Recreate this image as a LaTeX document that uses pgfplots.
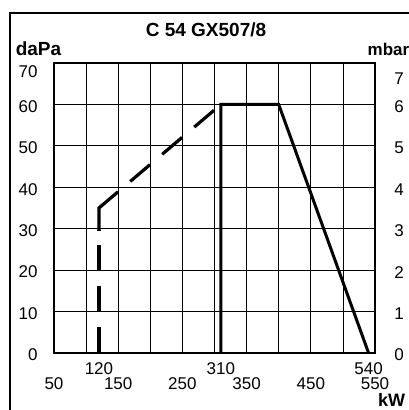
\documentclass[border=0pt]{standalone}
\usepackage{fontspec}
\setmainfont{Liberation Sans}
\usepackage{pgfplots}
\pgfplotsset{compat=1.18}
\begin{document}
\begin{tikzpicture}
\useasboundingbox (-27pt,-28.5pt) rectangle (177pt,176.5pt);
\draw[line width=1.2pt] (-22pt,-40pt) -- (-22pt,170pt) -- (190pt,170pt);
\begin{axis}[
  at={(0,0)}, anchor=south west,
  scale only axis, width=160.5pt, height=145pt,
  xmin=50, xmax=550, ymin=0, ymax=70,
  xtick={50,150,...,550},
  minor xtick={100,200,...,500},
  ytick={0,10,...,60},
  grid=both,
  major grid style={black, line width=0.4pt},
  minor grid style={black, line width=0.4pt},
  major tick length=0pt, minor tick length=0pt,
  axis line style={line width=0.6pt},
  tick label style={font=\fontsize{8.5}{10}\selectfont},
  /pgf/number format/assume math mode=true,
  xticklabel style={anchor=center, yshift=-15.25pt},
  extra x ticks={120,310,540},
  extra x tick style={grid=none, xticklabel style={yshift=7.5pt}},
  yticklabel style={anchor=east, inner sep=0pt, xshift=-8pt, yshift=-1pt},
  extra y ticks={70},
  extra y tick style={grid=none, yticklabel style={yshift=-3.5pt}},
]
\addplot[line width=1.6pt, dash pattern=on 13pt off 7.5pt] coordinates {(120,0) (120,29.7)};
\addplot[line width=1.6pt, dash pattern=on 23.5pt off 8pt on 13pt off 8pt on 13pt off 8pt on 13pt off 8pt on 13pt off 30pt] coordinates {(120,29.7) (120,35) (310,60)};
\addplot[line width=1.5pt] coordinates {(310,0) (310,60) (400,60) (540,0)};
\end{axis}
\begin{axis}[
  at={(0,0)}, anchor=south west,
  scale only axis, width=160.5pt, height=145pt,
  xmin=50, xmax=550, ymin=0, ymax=7,
  axis x line=none, axis y line*=right,
  ytick={0,1,...,6},
  major tick length=0pt,
  axis line style={line width=0.6pt},
  tick label style={font=\fontsize{8.5}{10}\selectfont},
  /pgf/number format/assume math mode=true,
  yticklabel style={anchor=center, xshift=12pt, yshift=-1pt},
  extra y ticks={7},
  extra y tick style={yticklabel style={yshift=-7pt}},
]
\end{axis}
\node[font=\bfseries\fontsize{9.5}{11}\selectfont] at (76pt,161.5pt) {C 54 GX507/8};
\node[font=\bfseries\fontsize{9.5}{11}\selectfont] at (-7.75pt,152pt) {daPa};
\node[font=\bfseries\fontsize{8.5}{10}\selectfont] at (167.25pt,152pt) {mbar};
\node[font=\bfseries\fontsize{9}{10}\selectfont] at (168.75pt,-23.5pt) {kW};
\end{tikzpicture}
\end{document}
